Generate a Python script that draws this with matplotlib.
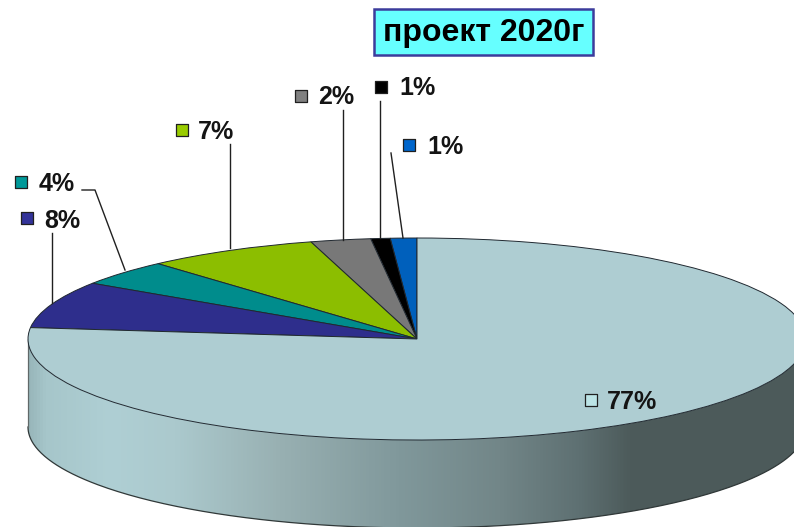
import numpy as np
import matplotlib
matplotlib.use('Agg')
import matplotlib.pyplot as plt
from matplotlib.colors import LinearSegmentedColormap
from matplotlib.patches import Polygon, Rectangle

plt.rcParams['font.family'] = ['Liberation Sans', 'DejaVu Sans']

# data, counter-clockwise from the top of the pie
# slice sizes are measured from the drawing, the labels are what is printed on it
values = [1.1, 0.8, 2.5, 7.2, 4.1, 7.5, 76.8]
labels = ['1%', '1%', '2%', '7%', '4%', '8%', '77%']
colors = ['#0060bc', '#000000', '#787878', '#8cbe00', '#008c8c', '#2e2e8c', '#aecdd2']
marker_colors = ['#0066cc', '#000000', '#808080', '#99cc00', '#009999', '#333399', '#bce4e6']
title = 'проект 2020г'

# layout in picture pixels
W, H = 794, 527
cx, cy, rx, ry, depth = 417, 339, 389, 101, 88
marker_pos = [(409, 145), (381, 87), (301, 96), (182, 130), (21, 182), (27, 218), (591, 400)]
label_pos = [(427, 147), (399, 88), (318, 97), (198, 132), (39, 184), (44, 221), (607, 402)]
leaders = [
    [(391, 153), (403, 238)],
    [(380, 101), (380, 238)],
    [(343, 110), (343, 240)],
    [(230, 144), (230, 248)],
    [(82, 190), (95, 190), (125, 270)],
    [(52, 233), (52, 303)],
]
side_x = [28, 45, 110, 175, 280, 400, 500, 580, 630, 794]
side_col = ['#98b6ba', '#a6c6ca', '#afcfd4', '#abc9cd', '#98b0b2', '#80989b', '#728688',
            '#5e7072', '#4d5b5b', '#4c5a5a']


def px(x, y):
    # picture pixels -> pie units
    return (x - cx) / rx, (cy - y) / ry


fig = plt.figure(figsize=(W / 100, H / 100), dpi=100)
ax = fig.add_axes([0, 0, 1, 1])

# side of the disc
t = np.linspace(np.pi, 2 * np.pi, 300)
x_side = np.cos(t)
y_side = np.sin(t)
d = depth / ry
outline = np.vstack([
    np.column_stack([x_side, y_side]),
    np.column_stack([x_side[::-1], y_side[::-1] - d]),
])
side = Polygon(outline, closed=True, facecolor='none', edgecolor='none')
ax.add_patch(side)

stops = [(x - side_x[0]) / (side_x[-1] - side_x[0]) for x in side_x]
cmap = LinearSegmentedColormap.from_list('side', list(zip(stops, side_col)))
x0, _ = px(side_x[0], 0)
x1, _ = px(side_x[-1], 0)
grad = np.linspace(0, 1, 512).reshape(1, -1)
im = ax.imshow(grad, cmap=cmap, extent=(x0, x1, -1 - d, 0), aspect='auto', zorder=1)
im.set_clip_path(side)

ax.plot(x_side, y_side - d, color='#303838', lw=0.9, zorder=2)
ax.plot([-1, -1], [0, -d], color='#606868', lw=0.9, zorder=2)

# top of the disc
wedges, _ = ax.pie(values, colors=colors, startangle=90, counterclock=True, radius=1,
                   wedgeprops={'edgecolor': '#202830', 'linewidth': 0.7, 'zorder': 3})
for w in wedges:
    w.set_zorder(3)

ax.set_aspect('auto')
ax.set_xlim(px(0, 0)[0], px(W, 0)[0])
ax.set_ylim(px(0, H)[1], px(0, 0)[1])
ax.axis('off')

# leader lines
for pts in leaders:
    xs, ys = zip(*[px(*p) for p in pts])
    ax.plot(xs, ys, color='#202020', lw=1.0, zorder=4)

# data labels with legend keys
for lab, mc, mp, lp in zip(labels, marker_colors, marker_pos, label_pos):
    mx, my = px(*mp)
    ax.scatter([mx], [my], marker='s', s=78, color=mc, edgecolors='#202020', linewidths=0.9, zorder=5)
    lx, ly = px(*lp)
    ax.text(lx, ly, lab, fontsize=18, fontweight='bold', color='#141414', ha='left', va='center', zorder=5)

# title box
bx0, by0 = px(374, 55)
bx1, by1 = px(593, 9)
ax.add_patch(Rectangle((bx0, by0), bx1 - bx0, by1 - by0, facecolor='#66ffff', edgecolor='#3c3c9c',
                       linewidth=1.8, zorder=5))
tx, ty = px(483.5, 33.5)
ax.text(tx, ty, title, fontsize=23, fontweight='bold', color='black', ha='center', va='center', zorder=6)

fig.savefig('out.png', dpi=100)
